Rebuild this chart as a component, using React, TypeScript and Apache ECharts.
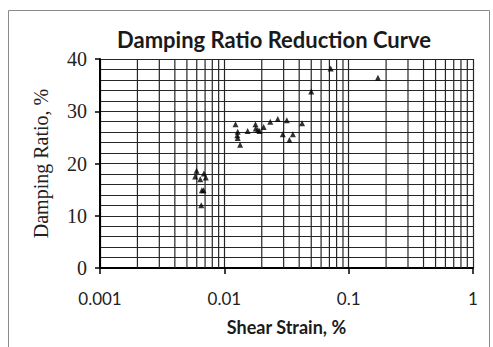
import React, { useEffect, useRef } from "react";
import * as echarts from "echarts";

const strain = [
  0.00583, 0.00598, 0.0064, 0.00685, 0.0071, 0.0066, 0.0068, 0.00652,
  0.0123, 0.0128, 0.0127, 0.0128, 0.0134, 0.0154, 0.0178, 0.0179, 0.0186,
  0.0192, 0.0207, 0.0234, 0.0269, 0.0295, 0.0318, 0.0334, 0.0356, 0.0422,
  0.050, 0.0717, 0.172,
];
const damping = [
  17.5, 18.6, 17.0, 18.1, 17.3, 14.9, 14.9, 12.0,
  27.5, 26.1, 25.4, 24.9, 23.6, 26.2, 27.5, 26.7, 26.4,
  26.2, 27.0, 28.0, 28.5, 25.6, 28.3, 24.5, 25.6, 27.7,
  33.8, 38.2, 36.4,
];
const minorStrain = [
  0.002, 0.003, 0.004, 0.005, 0.006, 0.007, 0.008, 0.009,
  0.02, 0.03, 0.04, 0.05, 0.06, 0.07, 0.08, 0.09,
  0.2, 0.3, 0.4, 0.5, 0.6, 0.7, 0.8, 0.9,
];
const yRange = [0, 40];
const xTickLabels: Record<string, string> = { "0.001": "0.001", "0.01": "0.01", "0.1": "0.1", "1": "1" };

export default function App() {
  const ref = useRef<HTMLDivElement>(null);
  useEffect(() => {
    if (!ref.current) return;
    const chart = echarts.init(ref.current, null, { renderer: "svg" });
    const gridColor = "#262626";
    const gridWidth = 1.2;
    const minorSeries = minorStrain.map((v) => ({
      type: "line",
      silent: true,
      symbol: "none",
      z: 1,
      lineStyle: { color: gridColor, width: gridWidth },
      data: [
        [v, yRange[0]],
        [v, yRange[1]],
      ],
    }));
    chart.setOption({
      animation: false,
      backgroundColor: "#ffffff",
      title: {
        text: "Damping Ratio Reduction Curve",
        left: 269,
        top: 23,
        textAlign: "center",
        textStyle: { fontFamily: "Lato", fontWeight: "bold", fontSize: 22, color: "#1a1a1a" },
      },
      graphic: [
        {
          type: "rect",
          shape: { x: 8.5, y: 10.5, width: 481, height: 350 },
          style: { fill: "none", stroke: "#8a8a8a", lineWidth: 1 },
          silent: true,
          z: -1,
        },
      ],
      grid: { left: 100, right: 20, top: 59, bottom: 79 },
      xAxis: {
        type: "log",
        logBase: 10,
        min: 0.001,
        max: 1,
        name: "Shear Strain, %",
        nameLocation: "middle",
        nameGap: 50,
        nameTextStyle: { fontFamily: "Lato", fontWeight: "bold", fontSize: 18, color: "#1a1a1a" },
        axisLine: { show: true, onZero: false, lineStyle: { color: "#000", width: 2 } },
        axisTick: { show: true, length: 6, lineStyle: { color: "#000", width: 1.5 } },
        axisLabel: {
          fontFamily: "Lato",
          fontSize: 17,
          color: "#222",
          margin: 22,
          showMinLabel: true,
          showMaxLabel: true,
          formatter: (v: number) => xTickLabels[String(v)] ?? String(v),
        },
        splitLine: { show: true, lineStyle: { color: gridColor, width: gridWidth } },
        minorTick: { show: false },
        minorSplitLine: { show: false },
      },
      yAxis: {
        type: "value",
        min: yRange[0],
        max: yRange[1],
        interval: 10,
        name: "Damping Ratio, %",
        nameLocation: "middle",
        nameGap: 49,
        nameTextStyle: { fontFamily: "Liberation Serif", fontSize: 20, color: "#222" },
        axisLine: { show: true, lineStyle: { color: "#000", width: 2 } },
        axisTick: { show: true, length: 5, lineStyle: { color: "#000", width: 1.5 } },
        axisLabel: { fontFamily: "Liberation Serif", fontSize: 20, color: "#222", margin: 13 },
        splitLine: { show: true, lineStyle: { color: gridColor, width: gridWidth } },
        minorTick: { show: false, splitNumber: 5 },
        minorSplitLine: { show: true, lineStyle: { color: gridColor, width: gridWidth } },
      },
      series: [
        ...minorSeries,
        {
          type: "scatter",
          symbol: "triangle",
          symbolSize: 6,
          itemStyle: { color: "#000" },
          data: strain.map((s, i) => [s, damping[i]]),
          z: 5,
        },
      ],
    });
    return () => chart.dispose();
  }, []);
  return <div ref={ref} style={{ width: 493, height: 347, position: "absolute", left: 0, top: 0 }} />;
}
